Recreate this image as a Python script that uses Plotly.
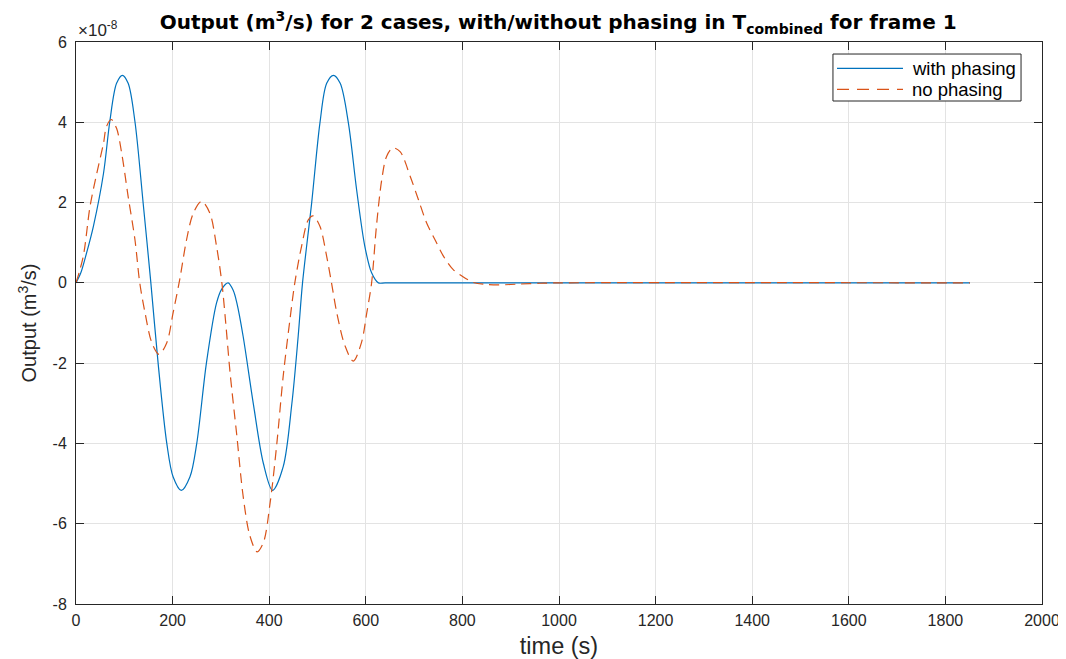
import plotly.graph_objects as go

# Data values in units of 1e-8 m^3/s
t_with = [0, 10, 22, 36, 57, 70, 84, 96, 108, 122, 139, 155, 170, 188, 201, 218, 236, 250,
          270, 291, 302, 315, 326, 333, 346, 367, 388, 407, 429, 447, 460, 469, 488, 505, 519, 533,
          547, 564, 581, 598, 612, 626, 640, 700, 1851]
y_with = [0, 0.25, 0.75, 1.41, 2.73, 4.02, 4.97, 5.17, 4.97, 4.02, 1.99, 0, -2.0, -4.0, -4.83,
          -5.17, -4.83, -4.0, -2.0, -0.5, -0.15, 0, -0.2, -0.5, -1.33, -3.0, -4.5, -5.17, -4.58, -3.0,
          -1.33, 0, 2.0, 3.98, 4.97, 5.17, 4.97, 3.98, 2.32, 0.91, 0.25, 0, 0, 0, 0]

t_no = [0, 15, 29, 43, 57, 63, 73, 84, 95, 108, 122, 132, 143, 157, 172, 188, 201, 215, 229,
        243, 260, 277, 291, 302, 310, 319, 333, 346, 360, 375, 388, 402, 416, 429, 443, 453,
        467, 481, 491, 505, 519, 529, 540, 557, 574, 591, 602, 612, 622, 633, 643, 656, 671,
        692, 709, 726, 743, 761, 781, 799, 823, 850, 878, 919, 960, 1000, 1851]
y_no = [0, 0.66, 1.90, 2.73, 3.48, 3.89, 4.07, 3.85, 3.2, 2.15, 1.08, 0, -0.75, -1.49, -1.78,
        -1.49, -0.75, 0.1, 1.08, 1.74, 2.03, 1.74, 0.91, 0, -1.0, -2.24, -3.81, -5.31, -6.30,
        -6.70, -6.47, -5.47, -3.98, -2.32, -0.91, 0, 0.91, 1.57, 1.67, 1.41, 0.66, 0, -0.75,
        -1.57, -1.95, -1.49, -0.75, 0, 1.41, 2.57, 3.15, 3.36, 3.27, 2.65, 2.07, 1.49, 1.08,
        0.66, 0.33, 0.17, 0.01, -0.04, -0.05, -0.03, -0.01, 0, 0]

series_names = ["with phasing", "no phasing"]
series_colors = ["#0072BD", "#D95319"]

scale = 1e-8
y_ticks = [-8, -6, -4, -2, 0, 2, 4, 6]
x_ticks = [0, 200, 400, 600, 800, 1000, 1200, 1400, 1600, 1800, 2000]

fig = go.Figure()
fig.add_trace(go.Scatter(
    x=t_with, y=[v * scale for v in y_with], mode="lines", name=series_names[0],
    line=dict(color=series_colors[0], width=1.2, shape="spline", smoothing=0.9)))
fig.add_trace(go.Scatter(
    x=t_no, y=[v * scale for v in y_no], mode="lines", name=series_names[1],
    line=dict(color=series_colors[1], width=1.2, dash="10px,6px", shape="spline", smoothing=0.9)))

narrow = "Liberation Sans Narrow, Arial Narrow, sans-serif"
sans = "Liberation Sans, Arial, sans-serif"
axis_common = dict(
    showline=True, linecolor="#262626", linewidth=1, mirror="allticks",
    ticks="inside", ticklen=8, tickcolor="#262626", tickwidth=1,
    showgrid=True, gridcolor="#e3e3e3", gridwidth=1, zeroline=False,
    automargin=False,
    tickfont=dict(family=narrow, size=16, color="#262626"),
)

# manual legend box (paper coordinates of the plot area)
lx0, lx1, ly0, ly1 = 0.7836, 0.9783, 0.895, 0.9786
row_y = [0.9532, 0.9158]
shapes = [dict(type="rect", xref="paper", yref="paper", x0=lx0, x1=lx1, y0=ly0, y1=ly1,
               line=dict(color="#262626", width=1), fillcolor="white", layer="above")]
annotations = [dict(text="×10<sup>-8</sup>", xref="paper", yref="paper", x=0.0, y=1.0,
                    xanchor="left", yanchor="bottom", showarrow=False,
                    font=dict(family=sans, size=17, color="#262626"))]
dashes = ["solid", "12px,8px"]
for i, name in enumerate(series_names):
    shapes.append(dict(type="line", xref="paper", yref="paper", x0=0.7878, x1=0.8561,
                       y0=row_y[i], y1=row_y[i], layer="above",
                       line=dict(color=series_colors[i], width=1.2, dash=dashes[i])))
    annotations.append(dict(text=name, xref="paper", yref="paper", x=0.8634, y=row_y[i],
                            xanchor="left", yanchor="middle", showarrow=False,
                            font=dict(family=sans, size=18.5, color="black")))

fig.update_layout(
    width=1058, height=651,
    paper_bgcolor="white", plot_bgcolor="white",
    margin=dict(l=68, r=24, t=34, b=55),
    title=dict(
        text="<b>Output (m<sup>3</sup>/s) for 2 cases, with/without phasing in T<sub>combined</sub> for frame 1</b>",
        x=0.52, xanchor="center", y=0.978, yanchor="middle",
        font=dict(family="DejaVu Sans, Verdana, sans-serif", size=20, color="black")),
    xaxis=dict(range=[0, 2000], tickvals=x_ticks, ticktext=[str(v) for v in x_ticks],
               ticklabelstandoff=2,
               title=dict(text="time (s)", standoff=19,
                          font=dict(family=narrow, size=23.5, color="#262626")),
               **axis_common),
    yaxis=dict(range=[-8e-8, 6e-8], tickvals=[v * scale for v in y_ticks],
               ticktext=[str(v) for v in y_ticks], ticklabelstandoff=5,
               title=dict(text="Output (m<sup>3</sup>/s)", standoff=10,
                          font=dict(family=narrow, size=20, color="#262626")),
               **axis_common),
    showlegend=False,
    shapes=shapes,
    annotations=annotations,
)

fig.write_html("out.html")
